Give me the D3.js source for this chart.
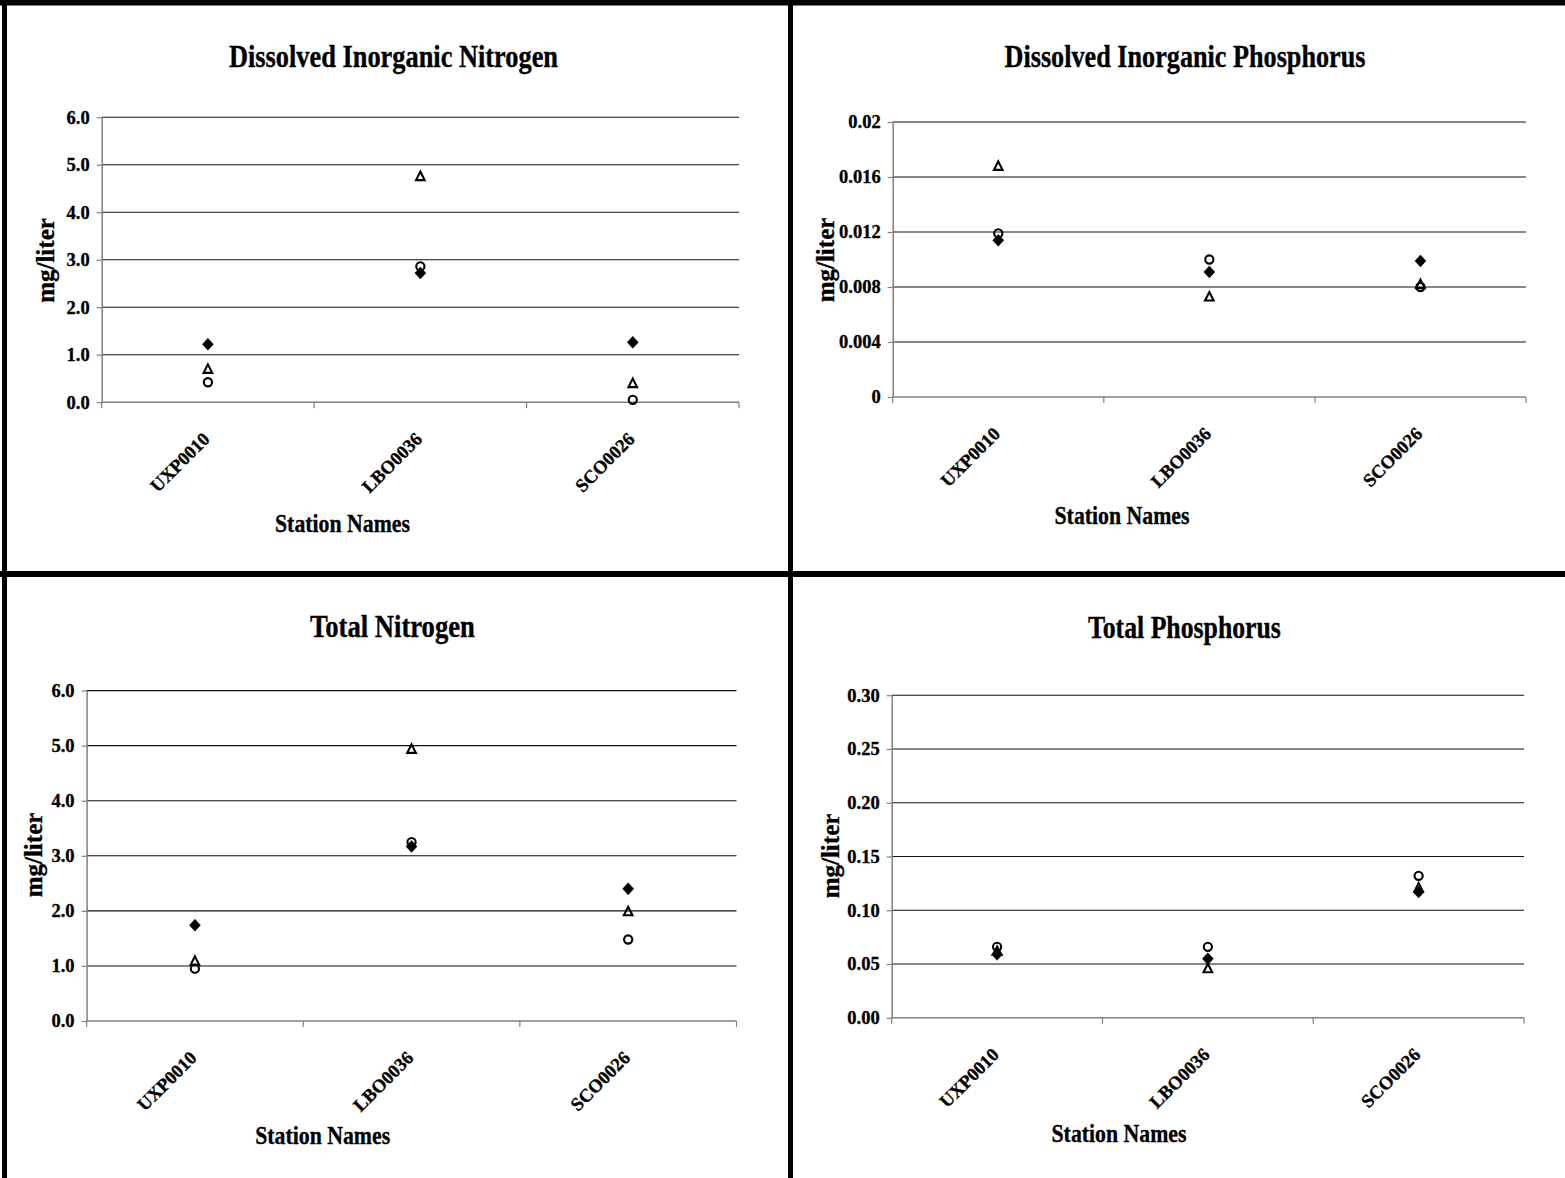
<!DOCTYPE html>
<html><head><meta charset="utf-8">
<script src="https://cdn.jsdelivr.net/npm/d3@7"></script>
<style>html,body{margin:0;padding:0;background:#fff;} svg{display:block;}</style>
</head><body><svg id="c" width="1565" height="1178"></svg>
<script>
// ---------- data ----------
const stations = ["UXP0010", "LBO0036", "SCO0026"];
const chartTitles = ["Dissolved Inorganic Nitrogen", "Dissolved Inorganic Phosphorus", "Total Nitrogen", "Total Phosphorus"];
const xAxisTitle = "Station Names";
const yAxisTitle = "mg/liter";

// three sample series per chart: circle, triangle, diamond markers
const dinCircle   = [0.42, 2.86, 0.05];
const dinTriangle = [0.70, 4.76, 0.40];
const dinDiamond  = [1.22, 2.72, 1.26];

const dipCircle   = [0.0119, 0.0100, 0.0080];
const dipTriangle = [0.0168, 0.0073, 0.0082];
const dipDiamond  = [0.0114, 0.0091, 0.0099];

const tnCircle    = [0.95, 3.25, 1.48];
const tnTriangle  = [1.09, 4.94, 1.99];
const tnDiamond   = [1.74, 3.17, 2.40];

const tpCircle    = [0.066, 0.066, 0.132];
const tpTriangle  = [0.062, 0.046, 0.121];
const tpDiamond   = [0.059, 0.055, 0.117];

const dinTicks = [0, 1, 2, 3, 4, 5, 6];
const dinTickLabels = ["0.0", "1.0", "2.0", "3.0", "4.0", "5.0", "6.0"];
const dipTicks = [0, 0.004, 0.008, 0.012, 0.016, 0.02];
const dipTickLabels = ["0", "0.004", "0.008", "0.012", "0.016", "0.02"];
const tnTicks = [0, 1, 2, 3, 4, 5, 6];
const tnTickLabels = ["0.0", "1.0", "2.0", "3.0", "4.0", "5.0", "6.0"];
const tpTicks = [0, 0.05, 0.10, 0.15, 0.20, 0.25, 0.30];
const tpTickLabels = ["0.00", "0.05", "0.10", "0.15", "0.20", "0.25", "0.30"];

// ---------- chart assembly ----------
const charts = [
  {title: chartTitles[0], series: [dinCircle, dinTriangle, dinDiamond], ticks: dinTicks, labels: dinTickLabels},
  {title: chartTitles[1], series: [dipCircle, dipTriangle, dipDiamond], ticks: dipTicks, labels: dipTickLabels},
  {title: chartTitles[2], series: [tnCircle, tnTriangle, tnDiamond], ticks: tnTicks, labels: tnTickLabels},
  {title: chartTitles[3], series: [tpCircle, tpTriangle, tpDiamond], ticks: tpTicks, labels: tpTickLabels}
];
const markerKinds = ["circle", "triangle", "diamond"];

// layout (pixels)
const layout = [
  {x0:101.7, x1:739,  yTop:117.3, yBot:402.2, tX:393.5,  tY:66.6,  tW:329, sX:342.5, sY:531.5, yX:48,  yY:260.5},
  {x0:892.7, x1:1526, yTop:122,   yBot:397,   tX:1185,   tY:66.6,  tW:361, sX:1122,  sY:523.5, yX:828, yY:260},
  {x0:86.6,  x1:736.5,yTop:690.6, yBot:1021,  tX:392.4,  tY:637,   tW:165, sX:322.7, sY:1144,  yX:36,  yY:855},
  {x0:891.7, x1:1524, yTop:695.2, yBot:1017.8,tX:1184.4, tY:637.5, tW:193, sX:1119,  sY:1142,  yX:833, yY:856}
];

const FONT = "'Liberation Serif','Times New Roman',Times,serif";
const svg = d3.select("#c");
svg.append("rect").attr("width",1565).attr("height",1178).attr("fill","#fff");

function markerPath(kind){
  if(kind==="diamond") return "M0,-6L5.5,0L0,6L-5.5,0Z";
  if(kind==="triangle") return "M0,-4.6L4.3,3.9L-4.3,3.9Z";
  return null;
}
function heavy(sel){ return sel.attr("stroke", "#000").attr("stroke-width", 0.35); }

charts.forEach((c, i) => {
  const L = layout[i];
  const g = svg.append("g");
  const y = d3.scaleLinear().domain([0, c.ticks[c.ticks.length-1]]).range([L.yBot, L.yTop]);
  const x = d3.scaleBand().domain(stations).range([L.x0, L.x1]).padding(0);

  // gridlines
  g.append("g").selectAll("line").data(c.ticks.filter(t => t !== 0)).join("line")
    .attr("x1", L.x0).attr("x2", L.x1)
    .attr("y1", d => y(d)).attr("y2", d => y(d))
    .attr("stroke", "#111").attr("stroke-width", 1.1);

  // y axis
  const yAxis = d3.axisLeft(y).tickValues(c.ticks)
    .tickFormat((d, k) => c.labels[k]).tickSizeInner(5).tickSizeOuter(0).tickPadding(7);
  const ya = g.append("g").attr("transform", `translate(${L.x0},0)`).call(yAxis);
  ya.select(".domain").attr("stroke", "#808080").attr("stroke-width", 1.5);
  ya.selectAll(".tick line").attr("stroke", "#808080").attr("stroke-width", 1.2);
  heavy(ya.selectAll(".tick text").attr("font-family", FONT).attr("font-weight", "bold")
    .attr("font-size", 18.5).attr("fill", "#000"));

  // x axis baseline + boundary ticks
  g.append("line").attr("x1", L.x0).attr("x2", L.x1).attr("y1", y(0)).attr("y2", y(0))
    .attr("stroke", "#808080").attr("stroke-width", 1.5);
  const bounds = stations.map(s => x(s)).concat([x(stations[stations.length-1]) + x.bandwidth()]);
  g.append("g").selectAll("line").data(bounds).join("line")
    .attr("x1", d => d).attr("x2", d => d).attr("y1", y(0)).attr("y2", y(0) + 6)
    .attr("stroke", "#808080").attr("stroke-width", 1.2);

  // x tick labels, rotated
  heavy(g.append("g").selectAll("text").data(stations).join("text")
    .attr("transform", d => `translate(${x(d) + x.bandwidth()/2 + 3},${y(0) + 38}) rotate(-45)`)
    .attr("text-anchor", "end")
    .attr("font-family", FONT).attr("font-weight", "bold").attr("font-size", 18.5)
    .text(d => d));

  // markers
  c.series.forEach((vals, si) => {
    const kind = markerKinds[si];
    const sg = g.append("g");
    const pts = stations.map((s, k) => ({s, v: vals[k]}));
    if (kind === "circle") {
      sg.selectAll("circle").data(pts).join("circle")
        .attr("cx", d => x(d.s) + x.bandwidth()/2).attr("cy", d => y(d.v))
        .attr("r", 4.1).attr("fill", "none").attr("stroke", "#000").attr("stroke-width", 2.1);
    } else {
      sg.selectAll("path").data(pts).join("path")
        .attr("transform", d => `translate(${x(d.s) + x.bandwidth()/2},${y(d.v)})`)
        .attr("d", markerPath(kind))
        .attr("fill", kind === "diamond" ? "#000" : "none")
        .attr("stroke", "#000").attr("stroke-width", kind === "diamond" ? 0.5 : 2.1)
        .attr("stroke-linejoin", "miter");
    }
  });

  // titles
  heavy(g.append("text").attr("x", L.tX).attr("y", L.tY).attr("text-anchor", "middle")
    .attr("font-family", FONT).attr("font-weight", "bold").attr("font-size", 31)
    .attr("textLength", L.tW).attr("lengthAdjust", "spacingAndGlyphs")
    .text(c.title));
  heavy(g.append("text").attr("x", L.sX).attr("y", L.sY).attr("text-anchor", "middle")
    .attr("font-family", FONT).attr("font-weight", "bold").attr("font-size", 26)
    .attr("textLength", 135).attr("lengthAdjust", "spacingAndGlyphs")
    .text(xAxisTitle));
  heavy(g.append("text").attr("transform", `translate(${L.yX + 6},${L.yY}) rotate(-90)`)
    .attr("text-anchor", "middle")
    .attr("font-family", FONT).attr("font-weight", "bold").attr("font-size", 25)
    .text(yAxisTitle));
});

// panel frame lines
const frame = svg.append("g").attr("fill", "#000");
frame.append("rect").attr("x", 0).attr("y", 0).attr("width", 1565).attr("height", 5.5);
frame.append("rect").attr("x", 2).attr("y", 0).attr("width", 5).attr("height", 1178);
frame.append("rect").attr("x", 788).attr("y", 0).attr("width", 5).attr("height", 1178);
frame.append("rect").attr("x", 0).attr("y", 571).attr("width", 1565).attr("height", 6);
</script>
</body></html>
